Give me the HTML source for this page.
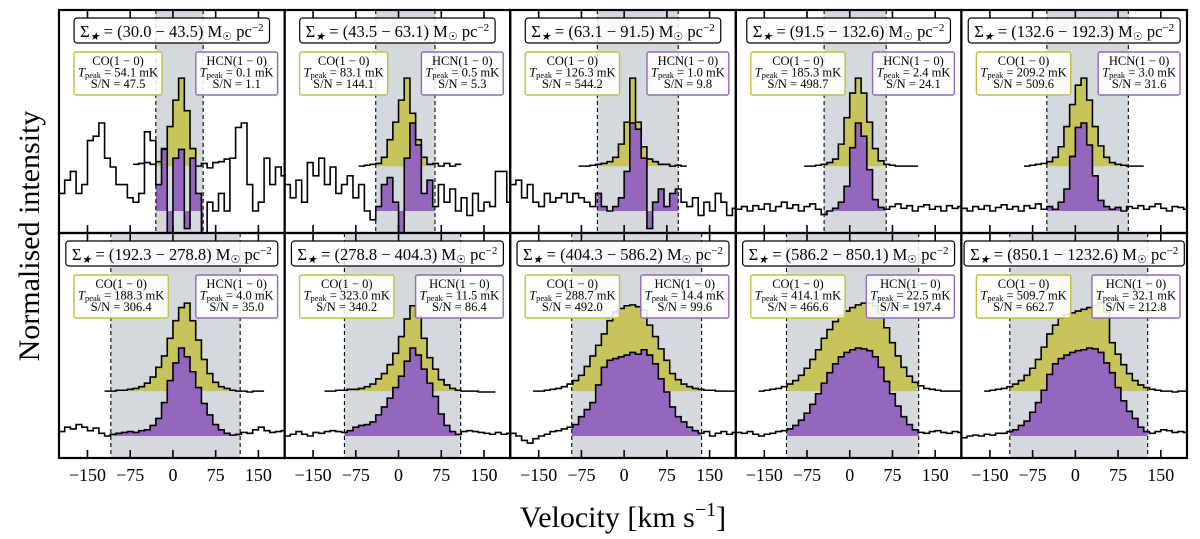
<!DOCTYPE html>
<html><head><meta charset="utf-8"><style>
body{margin:0;background:#fff}
svg{display:block;font-family:"Liberation Serif",serif}
</style></head><body>
<svg id="fig" width="1200" height="539" viewBox="0 0 1200 539" xmlns="http://www.w3.org/2000/svg">
<text x="0" y="0" transform="translate(39,236) rotate(-90)" text-anchor="middle" font-size="30">Normalised intensity</text>
<text x="623" y="527" text-anchor="middle" font-size="30">Velocity [km s<tspan baseline-shift="super" font-size="20">−1</tspan>]</text>
</svg>
<script>
const vStart=-195, dv=10;
const sigmaLo=['30.0','43.5','63.1','91.5','132.6','192.3','278.8','404.3','586.2','850.1'];
const sigmaHi=['43.5','63.1','91.5','132.6','192.3','278.8','404.3','586.2','850.1','1232.6'];
const coTpeak=['54.1','83.1','126.3','185.3','209.2','188.3','323.0','288.7','414.1','509.7'];
const coSN=['47.5','144.1','544.2','498.7','509.6','306.4','340.2','492.0','466.6','662.7'];
const hcnTpeak=['0.1','0.5','1.0','2.4','3.0','4.0','11.5','14.4','22.5','32.1'];
const hcnSN=['1.1','5.3','9.8','24.1','31.6','35.0','86.4','99.6','197.4','212.8'];
const winLo=[-30,-40,-47,-45,-50,-109,-95,-92,-111,-115];
const winHi=[53,64,95,64,93,118,109,136,121,127];
const tickVals=[-150,-75,0,75,150];
const tickLabels=['−150','−75','0','75','150'];
const coStart=[-65,-65,-75,-75,-85,-115,-125,-155,-155,-155];
const co1=[0.02,0.03,0.04,0.02,0.05,0.2,0.45,0.75,1.0,0.63,0.2,0.0,0.03,-0.02,0.04,0.05,0.08];
const co2=[0.0,0.01,0.02,0.03,0.1,0.3,0.5,0.75,1.0,0.6,0.3,0.1,0.02,0.03,0.0,0.03,0.0,0.02];
const co3=[0.0,0.0,0.01,0.02,0.03,0.05,0.1,0.25,0.5,1.0,0.5,0.22,0.08,0.05,0.02,0.02,0.0,0.01,0.0];
const co4=[0.0,0.0,0.01,0.02,0.04,0.08,0.25,0.55,0.83,1.0,0.83,0.5,0.2,0.06,0.02,0.01,0.0,0.0,0.0,0.0];
const co5=[0.0,0.01,0.02,0.03,0.05,0.1,0.22,0.45,0.7,0.92,1.0,0.75,0.45,0.23,0.1,0.04,0.02,0.01,0.0,0.0,0.0];
const co6=[0.0,0.0,0.01,0.01,0.02,0.03,0.05,0.09,0.16,0.27,0.4,0.6,0.8,0.95,1.0,0.8,0.58,0.36,0.2,0.1,0.05,0.03,0.01,0.0,0.0,-0.01,0.0,0.0];
const co7=[0.0,0.0,0.01,0.01,0.02,0.02,0.03,0.05,0.08,0.14,0.2,0.3,0.43,0.62,0.82,0.97,0.85,0.6,0.38,0.25,0.13,0.07,0.03,0.01,0.0,0.0,0.0,-0.01,-0.01,-0.01];
const co8=[0.0,0.0,0.01,0.02,0.03,0.05,0.08,0.12,0.18,0.28,0.4,0.52,0.65,0.8,0.9,0.94,0.97,0.98,0.96,0.92,0.75,0.62,0.48,0.35,0.2,0.13,0.08,0.05,0.03,0.02,0.01,0.01,0.0,0.0,0.0,0.0];
const co9=[0.0,0.01,0.02,0.03,0.05,0.08,0.12,0.18,0.26,0.36,0.47,0.6,0.7,0.79,0.86,0.91,0.95,0.98,1.0,1.0,0.97,0.88,0.72,0.55,0.4,0.27,0.17,0.1,0.06,0.03,0.02,0.01,0.0,0.0,0.0,0.0];
const co10=[0.0,0.01,0.02,0.03,0.05,0.08,0.12,0.18,0.26,0.36,0.5,0.65,0.75,0.83,0.87,0.89,0.91,0.93,0.95,0.97,1.0,0.9,0.55,0.42,0.3,0.2,0.12,0.07,0.04,0.02,0.01,0.0,0.0,-0.01,0.0,0.0];
const hcn1=[0.2,0.35,0.45,0.2,0.3,0.8,0.85,1.0,0.6,0.5,0.3,0.3,0.15,0.1,0.2,0.9,0.8,0.3,0.7,-0.3,0.6,0.7,-0.2,0.6,0.2,-0.25,0.1,0.0,0.2,0.0,0.6,0.95,1.0,0.3,0.0,0.1,0.6,0.3,0.5,0.4];
const hcn2=[0.3,0.15,0.35,0.1,0.55,0.4,0.6,0.3,0.5,0.2,0.3,0.4,0.15,0.3,0.0,-0.1,0.05,0.3,0.38,0.1,-0.25,0.6,1.0,0.75,0.2,0.35,0.05,0.3,0.1,0.25,0.0,0.15,-0.05,0.2,0.0,0.1,0.05,0.45,0.45,0.1];
const hcn3=[0.3,0.35,0.15,0.3,0.1,0.05,0.2,0.1,0.15,0.2,0.1,0.2,0.15,0.1,0.05,0.2,0.05,0.0,0.05,0.15,0.45,1.0,0.93,0.6,-0.2,0.1,0.25,0.05,0.2,0.25,0.1,0.05,0.15,-0.05,0.1,0.0,0.2,0.1,-0.05,0.03];
const hcn4=[0.02,0.05,0.0,0.06,0.02,0.08,0.0,0.05,0.1,0.03,0.07,0.0,0.05,0.08,0.02,-0.04,0.0,0.03,0.1,0.28,0.72,1.0,0.85,0.47,0.13,0.04,0.02,0.05,0.08,0.03,0.06,0.0,0.05,0.07,0.02,0.05,0.0,0.06,0.03,0.05];
const hcn5=[0.03,0.0,0.05,0.02,0.06,0.0,0.04,0.07,0.02,0.05,0.0,0.06,0.03,0.08,0.02,0.05,0.02,0.1,0.25,0.62,0.95,1.0,0.75,0.4,0.12,0.05,0.02,0.04,0.0,0.05,0.03,0.06,0.02,0.05,0.08,0.03,0.0,0.05,0.04,0.02];
const hcn6=[0.05,0.1,0.08,0.13,0.1,0.06,0.09,0.03,0.0,0.02,0.03,0.04,0.05,0.04,0.06,0.07,0.12,0.2,0.38,0.63,0.83,1.0,0.9,0.73,0.55,0.37,0.24,0.13,0.07,0.03,0.01,0.02,0.04,0.03,0.07,0.1,0.06,0.04,0.05,0.06];
const hcn7=[0.0,0.02,0.05,0.02,0.0,0.04,0.03,0.05,0.06,0.05,0.04,0.06,0.1,0.12,0.13,0.16,0.24,0.33,0.43,0.55,0.68,0.85,1.0,0.92,0.76,0.6,0.45,0.25,0.12,0.05,0.02,0.05,0.06,0.05,0.04,0.03,0.02,0.04,0.02,0.03];
const hcn8=[0.03,0.0,-0.05,-0.08,-0.03,0.0,0.02,0.05,0.06,0.08,0.1,0.13,0.22,0.3,0.38,0.58,0.78,0.86,0.88,0.9,0.92,0.95,0.93,0.98,0.92,0.82,0.65,0.5,0.33,0.22,0.16,0.1,0.06,0.03,0.05,0.0,0.03,0.05,0.02,0.04];
const hcn9=[0.04,0.03,0.05,0.02,0.0,0.02,0.03,0.05,0.06,0.08,0.12,0.18,0.26,0.36,0.48,0.6,0.72,0.82,0.9,0.95,0.98,1.0,0.99,0.97,0.9,0.78,0.62,0.48,0.34,0.22,0.13,0.07,0.04,0.03,0.05,0.06,0.04,0.03,0.05,0.04];
const hcn10=[-0.02,0.0,0.01,0.0,0.02,0.01,0.03,0.03,0.05,0.07,0.12,0.17,0.27,0.38,0.52,0.7,0.82,0.88,0.92,0.95,0.97,0.98,1.0,0.99,0.95,0.83,0.72,0.55,0.4,0.28,0.2,0.1,0.05,0.03,0.05,0.07,0.06,0.04,0.05,0.04];
const coSeries=[co1,co2,co3,co4,co5,co6,co7,co8,co9,co10];
const hcnSeries=[hcn1,hcn2,hcn3,hcn4,hcn5,hcn6,hcn7,hcn8,hcn9,hcn10];

const NS='http://www.w3.org/2000/svg';
const svg=document.getElementById('fig');
const X0=59, PW=225.6, VMIN=-200, VMAX=196;
const rowTop=[10,233], rowBot=[233,458];
const UNIT=88, COOFF=0.51;
function mk(tag,attrs,parent){const e=document.createElementNS(NS,tag);for(const k in attrs)e.setAttribute(k,attrs[k]);(parent||svg).appendChild(e);return e;}
function xs(p,v){return X0+(p%5)*PW+(v-VMIN)/(VMAX-VMIN)*PW;}
function ys(p,val){const r=Math.floor(p/5);return rowBot[r]-22-val*UNIT;}
function stepPath(p,start,vals,off){let d='';for(let i=0;i<vals.length;i++){const c=start+i*dv;const y=ys(p,vals[i]+off);d+=(i===0?'M'+xs(p,c-dv/2)+' '+y:' V'+y)+' H'+xs(p,c+dv/2);}return d;}
function fillPath(p,start,vals,off){const yb=ys(p,off);let d='M'+xs(p,start-dv/2)+' '+yb;for(let i=0;i<vals.length;i++){const c=start+i*dv;const y=ys(p,vals[i]+off);d+=' V'+y+' H'+xs(p,c+dv/2);}d+=' V'+yb+' Z';return d;}

for(let p=0;p<10;p++){
  const r=Math.floor(p/5), px=X0+(p%5)*PW, top=rowTop[r], bot=rowBot[r];
  const g=mk('g',{});
  
  
  const cp=mk('clipPath',{id:'pc'+p},g);
  mk('rect',{x:px,y:top,width:PW,height:bot-top},cp);
  const cw=mk('clipPath',{id:'wc'+p},g);
  mk('rect',{x:xs(p,winLo[p]),y:top,width:xs(p,winHi[p])-xs(p,winLo[p]),height:bot-top},cw);
  const inner=mk('g',{'clip-path':'url(#pc'+p+')'},g);
  const win=mk('rect',{x:xs(p,winLo[p]),y:top,width:xs(p,winHi[p])-xs(p,winLo[p]),height:bot-top,fill:'#d4d9de'},inner);
  
  
  const fills=mk('g',{'clip-path':'url(#wc'+p+')'},inner);
  const cf=mk('path',{d:fillPath(p,coStart[p],coSeries[p],COOFF),fill:'#c7c45b'},fills);
  
  
  const hf=mk('path',{d:fillPath(p,vStart,hcnSeries[p],0),fill:'#9466be'},fills);
  
  
  const cl=mk('path',{d:stepPath(p,coStart[p],coSeries[p],COOFF),fill:'none',stroke:'#000','stroke-width':1.6},inner);
  
  
  const hl=mk('path',{d:stepPath(p,vStart,hcnSeries[p],0),fill:'none',stroke:'#000','stroke-width':1.6},inner);
  
  
  [winLo[p],winHi[p]].forEach(v=>{const l=mk('line',{x1:xs(p,v),x2:xs(p,v),y1:top,y2:bot,stroke:'#000','stroke-width':1.1,'stroke-dasharray':'4,3'},inner);
    
    });
  tickVals.forEach((v,k)=>{const x=xs(p,v);
    const t1=mk('line',{x1:x,x2:x,y1:bot,y2:bot-8,stroke:'#000','stroke-width':1.6},g);
    
    
    const t2=mk('line',{x1:x,x2:x,y1:top,y2:top+8,stroke:'#000','stroke-width':1.6},g);
    
    
    if(r===1){const tl=mk('text',{x:x,y:481,'text-anchor':'middle','font-size':18},g);tl.textContent=tickLabels[k];
      
      }
  });
  const fr=mk('rect',{x:px,y:top,width:PW,height:bot-top,fill:'none',stroke:'#000','stroke-width':2.2},g);
  
  
  const cx=px+PW/2;
  const tg=mk('g',{},g);
  
  
  const tb=mk('rect',{x:0,y:top+8,width:10,height:25,rx:3,fill:'rgba(255,255,255,0.85)',stroke:'#000','stroke-width':1.2},tg);
  const tt=mk('text',{x:cx,y:top+27,'text-anchor':'middle','font-size':16.5},tg);
  tt.innerHTML='Σ<tspan font-style="italic" font-size="11" dy="3">★</tspan><tspan dy="-3"> = ('+sigmaLo[p]+' − '+sigmaHi[p]+') M</tspan><tspan font-size="11" dy="3">☉</tspan><tspan dy="-3"> pc</tspan><tspan font-size="11" dy="-6">−2</tspan>';
  const tw=tt.getComputedTextLength()+12;
  tb.setAttribute('x',cx-tw/2);tb.setAttribute('width',tw);
  function infoBox(name,color,lines,align){
    const bg=mk('g',{},g);
    
    
    const b=mk('rect',{x:0,y:top+42,width:10,height:43,rx:2,fill:'rgba(255,255,255,0.88)',stroke:color,'stroke-width':1.4},bg);
    const ts=lines.map((s,i)=>{const t=mk('text',{x:0,y:top+55+i*11.5,'text-anchor':'middle','font-size':12.5},bg);t.innerHTML=s;return t;});
    const w=Math.max(...ts.map(t=>t.getComputedTextLength()))+8;
    const bx=align==='left'?px+15:px+PW-7-w;
    b.setAttribute('x',bx);b.setAttribute('width',w);
    ts.forEach(t=>t.setAttribute('x',bx+w/2));
  }
  infoBox('co-info-box','#c2bf3a',['CO(1 − 0)','<tspan font-style="italic">T</tspan><tspan font-size="8.5" dy="1.5">peak</tspan><tspan dy="-1.5"> = '+coTpeak[p]+' mK</tspan>','S/N = '+coSN[p]],'left');
  infoBox('hcn-info-box','#9466be',['HCN(1 − 0)','<tspan font-style="italic">T</tspan><tspan font-size="8.5" dy="1.5">peak</tspan><tspan dy="-1.5"> = '+hcnTpeak[p]+' mK</tspan>','S/N = '+hcnSN[p]],'right');
}
</script>
</body></html>
